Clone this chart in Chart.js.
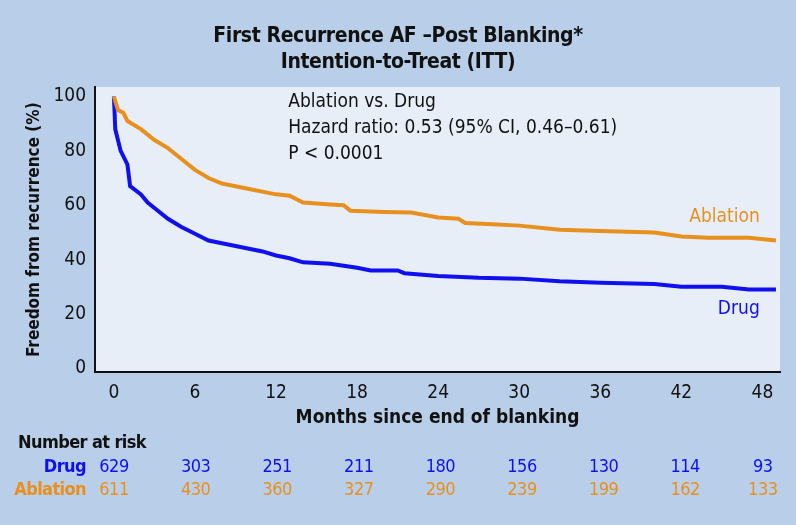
<!DOCTYPE html>
<html>
<head>
<meta charset="utf-8">
<script src="https://cdn.jsdelivr.net/npm/chart.js@4"></script>
<style>
  body { margin: 0; background: #b9cfe9; }
  #wrap { position: relative; width: 796px; height: 525px; background: #b9cfe9;
          font-family: "DejaVu Sans Condensed", "Liberation Sans Narrow", "Liberation Sans", sans-serif; }
  #title { position: absolute; top: 22px; left: 0; width: 796px; text-align: center;
           font-weight: bold; font-size: 21px; line-height: 26px; color: #111; letter-spacing: -0.4px; }
  canvas { position: absolute; left: 0; top: 0; }
  .risk { position: absolute; font-size: 18px; letter-spacing: -0.6px; }
  .num { position: absolute; transform: translateX(-50%); font-size: 18px; letter-spacing: -0.5px; }
</style>
</head>
<body>
<div id="wrap">
  <canvas id="km" width="796" height="525"></canvas>
  <div id="title">First Recurrence AF –Post Blanking*<br>Intention-to-Treat (ITT)</div>
  <div id="riskTable"></div>
</div>
<script>
// Kaplan-Meier estimates (months, % free from recurrence)
const drugMonths = [0, 0.1, 0.5, 1, 1.2, 2, 2.5, 3, 4, 5, 6, 7, 8, 9, 10, 11, 12, 13, 14, 16, 18, 19, 21, 21.5, 24, 27, 30, 33, 36, 40, 42, 45, 47, 49];
const drugValues = [100, 88, 80, 75, 67, 64, 61, 59, 55, 52, 49.5, 47, 46, 45, 44, 43, 41.5, 40.5, 39, 38.5, 37, 36, 36, 35, 34, 33.3, 33, 32, 31.5, 31, 30, 30, 29, 29];
const ablMonths = [0, 0.3, 0.7, 1, 2, 3, 4, 5, 6, 7, 8, 10, 12, 13, 14, 16, 17, 17.5, 20, 22, 24, 25.5, 26, 28, 30, 33, 36, 40, 42, 44, 46, 47, 49];
const ablValues = [100, 95, 94, 91, 88, 84, 81, 77, 73, 70, 68, 66, 64, 63.5, 61, 60.3, 60, 58, 57.5, 57.3, 55.5, 55, 53.5, 53, 52.5, 51, 50.5, 50, 48.5, 48, 48, 48, 47];

const xTicks = [0, 6, 12, 18, 24, 30, 36, 42, 48];
const yTicks = [0, 20, 40, 60, 80, 100];
const drugAtRisk = [629, 303, 251, 211, 180, 156, 130, 114, 93];
const ablAtRisk = [611, 430, 360, 327, 290, 239, 199, 162, 133];

const FONT = '"DejaVu Sans Condensed", "Liberation Sans Narrow", "Liberation Sans", sans-serif';
const DRUG = '#1010ee';
const ABL = '#e8901e';

const toPts = (xs, ys) => xs.map((x, i) => ({ x: x, y: ys[i] }));

const labelsPlugin = {
    id: 'labels',
    beforeDraw(chart) {
        const a = chart.chartArea, c = chart.ctx;
        c.save();
        c.fillStyle = '#e7eef8';
        c.fillRect(a.left, a.top, a.right - a.left, a.bottom - a.top);
        c.restore();
    },
    afterDatasetsDraw(chart) {
        const c = chart.ctx, xs = chart.scales.x, ys = chart.scales.y;
        c.save();
        c.font = '19px ' + FONT;
        c.fillStyle = '#111';
        c.textBaseline = 'alphabetic';
        c.fillText('Ablation vs. Drug', xs.getPixelForValue(12.9), ys.getPixelForValue(96));
        c.fillText('Hazard ratio: 0.53 (95% CI, 0.46–0.61)', xs.getPixelForValue(12.9), ys.getPixelForValue(86.5));
        c.fillText('P < 0.0001', xs.getPixelForValue(12.9), ys.getPixelForValue(77));
        c.textAlign = 'right';
        c.fillStyle = ABL;
        c.fillText('Ablation', xs.getPixelForValue(47.8), ys.getPixelForValue(54));
        c.fillStyle = DRUG;
        c.fillText('Drug', xs.getPixelForValue(47.8), ys.getPixelForValue(20));
        c.restore();
    }
};

new Chart(document.getElementById('km'), {
    type: 'line',
    data: {
        datasets: [{
            label: 'Ablation',
            data: toPts(ablMonths, ablValues),
            borderColor: ABL,
            borderWidth: 4,
            pointRadius: 0,
            fill: false
        }, {
            label: 'Drug',
            data: toPts(drugMonths, drugValues),
            borderColor: DRUG,
            borderWidth: 4,
            pointRadius: 0,
            fill: false
        }]
    },
    options: {
        responsive: false,
        animation: false,
        layout: { padding: { left: 22, right: 16, top: 87, bottom: 96 } },
        plugins: { legend: { display: false }, tooltip: { enabled: false } },
        scales: {
            x: {
                type: 'linear',
                min: -1.4,
                max: 49.3,
                afterBuildTicks: s => { s.ticks = xTicks.map(v => ({ value: v })); },
                grid: { display: false, drawTicks: true, tickLength: 7, tickColor: '#111' },
                border: { color: '#111', width: 2 },
                ticks: { color: '#111', font: { family: FONT, size: 19 }, padding: 2 },
                title: { display: true, text: 'Months since end of blanking', color: '#111',
                         font: { family: FONT, size: 19, weight: 'bold' }, padding: 0 }
            },
            y: {
                min: -1.5,
                max: 103.5,
                afterBuildTicks: s => { s.ticks = yTicks.map(v => ({ value: v })); },
                afterFit: s => { s.width = 73; },
                grid: { display: false, drawTicks: true, tickLength: 7, tickColor: '#111' },
                border: { color: '#111', width: 2 },
                ticks: { color: '#111', font: { family: FONT, size: 19 }, padding: 2 },
                title: { display: true, text: 'Freedom from recurrence (%)', color: '#111',
                         font: { family: FONT, size: 17, weight: 'bold' }, padding: 2 }
            }
        }
    },
    plugins: [labelsPlugin]
});

// number-at-risk table, columns aligned to the x ticks (0 -> 114px, 13.6px per month)
const table = document.getElementById('riskTable');
let html = '<div class="risk" style="left:18px;top:431px;font-weight:bold;color:#111">Number at risk</div>';
html += '<div class="risk" style="right:710px;top:455px;font-weight:bold;color:' + DRUG + '">Drug</div>';
html += '<div class="risk" style="right:710px;top:478px;font-weight:bold;color:' + ABL + '">Ablation</div>';
xTicks.forEach((m, i) => {
    const x = 114 + m * 13.6 + (i === xTicks.length - 1 ? -4 : 0);
    html += '<div class="num" style="left:' + x + 'px;top:455px;color:' + DRUG + '">' + drugAtRisk[i] + '</div>';
    html += '<div class="num" style="left:' + x + 'px;top:478px;color:' + ABL + '">' + ablAtRisk[i] + '</div>';
});
table.innerHTML = html;
</script>
</body>
</html>
